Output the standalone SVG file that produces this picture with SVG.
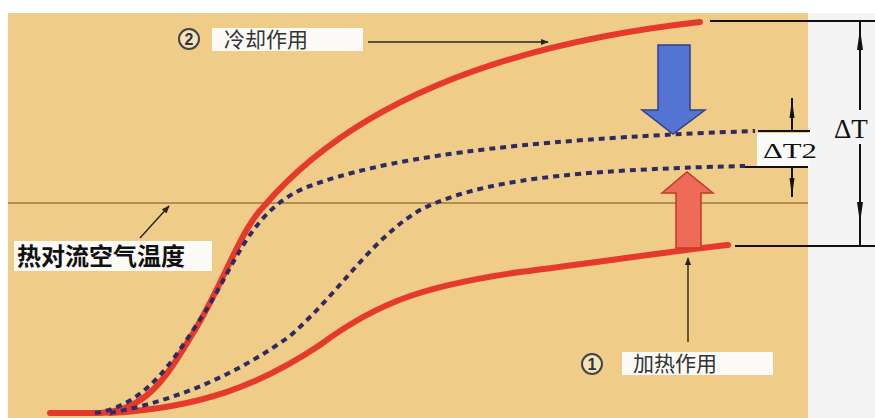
<svg xmlns="http://www.w3.org/2000/svg" width="875" height="418" viewBox="0 0 875 418">
<style>
.red{fill:none;stroke:#E5392C;stroke-width:6;stroke-linecap:round}
.dash{fill:none;stroke:#2E2A66;stroke-width:4;stroke-dasharray:6 5}
.thin{fill:none;stroke:#2a2418;stroke-width:1.4}
.dim{fill:none;stroke:#111;stroke-width:2}
.box{fill:#FBFAF6}
.lbl{font-family:"Noto Sans CJK SC","Noto Sans",sans-serif;font-size:21px;fill:#333}
.serif{font-family:"Liberation Serif","DejaVu Serif",serif;fill:#111}
</style>
<defs>
<marker id="ah" viewBox="0 0 10 10" refX="9" refY="5" markerWidth="8" markerHeight="8" markerUnits="userSpaceOnUse" orient="auto">
<path d="M0,1 L10,5 L0,9 Z" fill="#2a2418"/>
</marker>
</defs>
<rect x="0" y="0" width="875" height="418" fill="#FFFFFF"/>
<rect x="808" y="13" width="67" height="405" fill="#F4F4F4"/>
<rect x="8" y="13" width="800" height="405" fill="#EFCC88"/>
<line x1="8" y1="203" x2="808" y2="203" stroke="#9C7B3E" stroke-width="1.6"/>
<g id="curves">
<path class="red" d="M50,413 L100,413 C150,411 170,370 195,330 C225,280 240,230 265,205 C330,130 450,50 700,22"/>
<path class="red" d="M110,413 C200,408 260,385 320,345 C380,300 430,285 520,272 C600,262 680,250 728,245"/>
<path class="dash" d="M95,413 C150,405 178,352 205,312 C235,265 252,207 310,186 C380,160 500,140 755,131"/>
<path class="dash" d="M110,413 C180,400 240,372 290,336 C340,292 370,240 420,210 C480,180 570,170 745,166"/>
</g>
<g id="cooling-arrow">
<path d="M658,45 L690,45 L690,110 L705,110 L673,134 L642,110 L658,110 Z" fill="#5474D4" stroke="#2F3F8E" stroke-width="1.5"/>
</g>
<g id="heating-arrow">
<path d="M676,248 L701,248 L701,193 L713,193 L687,172 L662,193 L676,193 Z" fill="#EE6B57" stroke="#C23A26" stroke-width="1.5"/>
</g>
<g id="convection-label">
<rect class="box" x="14" y="241" width="198" height="30"/>
<text x="17" y="265" font-family="'Noto Sans CJK SC','Noto Sans',sans-serif" font-size="24" font-weight="700" fill="#111">热对流空气温度</text>
</g>
<g id="cooling-label">
<circle cx="189" cy="39" r="10" fill="#F3E4C0" stroke="#444" stroke-width="2"/>
<text x="189" y="45" text-anchor="middle" font-family="'Liberation Sans',sans-serif" font-size="16" font-weight="700" fill="#333">2</text>
<rect class="box" x="212" y="28" width="151" height="23"/>
<text class="lbl" x="224" y="47">冷却作用</text>
</g>
<g id="heating-label">
<circle cx="592" cy="364" r="10" fill="#F3E4C0" stroke="#444" stroke-width="2"/>
<text x="592" y="370" text-anchor="middle" font-family="'Liberation Sans',sans-serif" font-size="16" font-weight="700" fill="#333">1</text>
<rect class="box" x="622" y="352" width="151" height="23"/>
<text class="lbl" x="633" y="371">加热作用</text>
</g>
<g id="connectors">
<line class="thin" x1="368" y1="42" x2="548" y2="42" marker-end="url(#ah)"/>
<line class="thin" x1="140" y1="238" x2="169" y2="206" marker-end="url(#ah)"/>
<line class="thin" x1="688" y1="342" x2="688" y2="258" marker-end="url(#ah)"/>
</g>
<g id="delta-t">
<line class="dim" x1="710" y1="21" x2="875" y2="21"/>
<line class="dim" x1="735" y1="246" x2="875" y2="246"/>
<line class="dim" x1="860" y1="21" x2="860" y2="246"/>
<path d="M860,29 L863,50 L857,50 Z" fill="#111"/>
<path d="M860,223 L863,202 L857,202 Z" fill="#111"/>
<rect x="832" y="110" width="43" height="34" fill="#F4F4F4"/>
<text class="serif" x="834" y="138" font-size="27">ΔT</text>
</g>
<g id="delta-t2">
<rect x="757" y="133" width="52" height="33" fill="#FAFAF8"/>
<line class="dim" x1="758" y1="131" x2="810" y2="131"/>
<line class="dim" x1="745" y1="167" x2="808" y2="167"/>
<line class="dim" x1="792" y1="98" x2="792" y2="131"/>
<line class="dim" x1="792" y1="167" x2="792" y2="197"/>
<path d="M792,100 L794.5,118 L789.5,118 Z" fill="#111"/>
<path d="M792,196 L794.5,178 L789.5,178 Z" fill="#111"/>
<text class="serif" x="763" y="158" font-size="22" textLength="54" lengthAdjust="spacingAndGlyphs">ΔT2</text>
</g>
</svg>
